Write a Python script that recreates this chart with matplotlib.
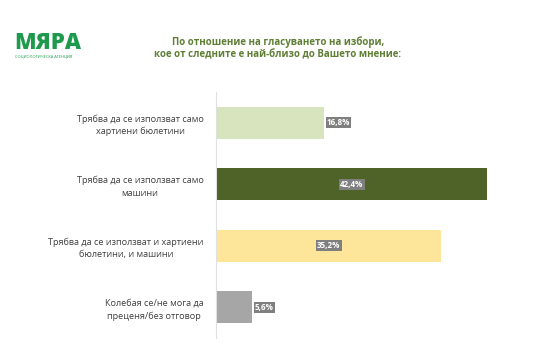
import matplotlib.pyplot as plt

plt.rcParams['font.family'] = ['Open Sans', 'DejaVu Sans']

categories = [
    'Трябва да се използват само\nхартиени бюлетини',
    'Трябва да се използват само\nмашини',
    'Трябва да се използват и хартиени\nбюлетини, и машини',
    'Колебая се/не мога да\nпреценя/без отговор',
]
values = [16.8, 42.4, 35.2, 5.6]
value_labels = ['16,8%', '42,4%', '35,2%', '5,6%']
bar_colors = ['#d7e4bd', '#4f6228', '#fde699', '#a6a6a6']

title = 'По отношение на гласуването на избори,\nкое от следните е най-близо до Вашето мнение:'

fig = plt.figure(figsize=(5.59, 3.45), dpi=100)
ax = fig.add_axes([216 / 559, 1 - 338 / 345, 320 / 559, 246 / 345])

pos = list(range(len(values)))
ax.barh(pos, values, height=0.52, color=bar_colors)
ax.set_xlim(0, 50)
ax.set_ylim(3.5, -0.5)

for y, v, lab in zip(pos, values, value_labels):
    box = dict(boxstyle='square,pad=0.15', fc='#7f7f7f', ec='none')
    if v > 20:
        ax.text(v / 2, y, lab, ha='center', va='center', color='white',
                fontsize=5.8, fontweight='bold', bbox=box)
    else:
        ax.text(v + 0.5, y, lab, ha='left', va='center', color='white',
                fontsize=5.8, fontweight='bold', bbox=box)

ax.set_yticks(pos)
ax.set_yticklabels(categories, fontsize=6.6, color='#404040', multialignment='center',
                   linespacing=1.45)
ax.tick_params(axis='y', length=0, pad=9)
ax.set_xticks([])
for s in ['top', 'right', 'bottom']:
    ax.spines[s].set_visible(False)
ax.spines['left'].set_color('#e0e0e0')
ax.spines['left'].set_linewidth(0.8)

fig.text(278 / 559, 1 - 48.5 / 345, title, ha='center', va='center', fontsize=7,
         fontweight='bold', color='#5f7f35', linespacing=1.2)

# logo
fig.text(14 / 559, 1 - 43 / 345, 'МЯРА', ha='left', va='center', fontsize=16,
         fontweight='heavy', color='#1e9a4c')
fig.text(15 / 559, 1 - 56 / 345, 'СОЦИОЛОГИЧЕСКА АГЕНЦИЯ', ha='left', va='center',
         fontsize=2.9, color='#1e9a4c')

fig.savefig('out.png', dpi=100)
